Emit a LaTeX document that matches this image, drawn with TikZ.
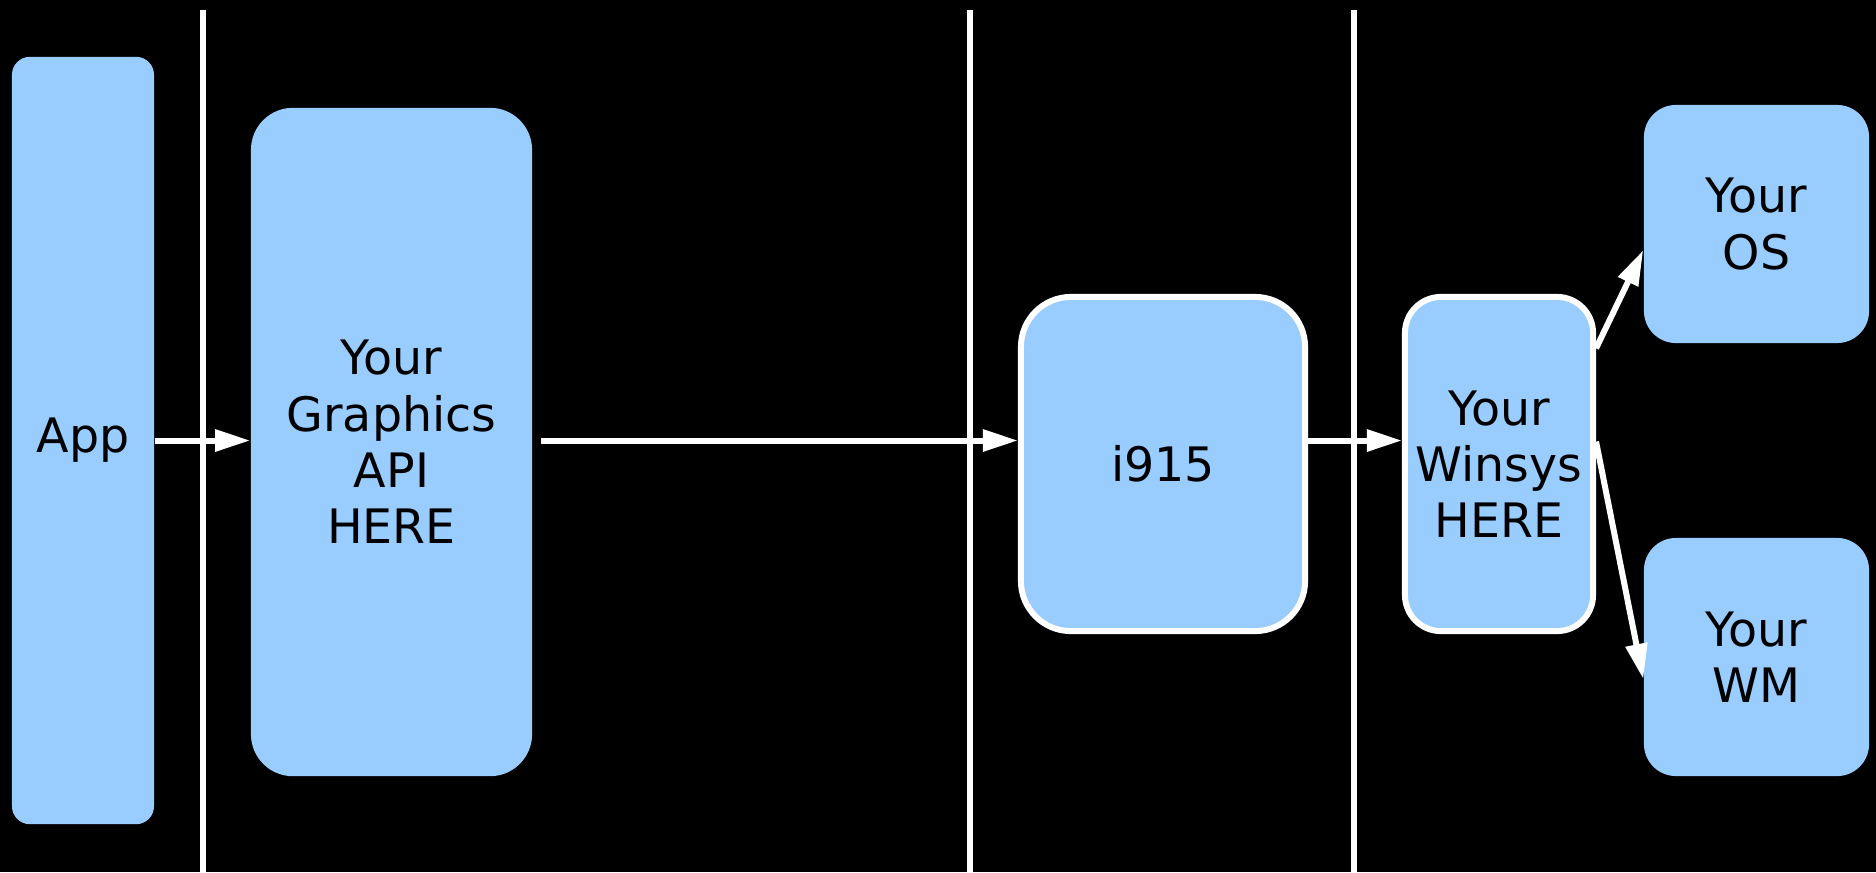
\documentclass[tikz,border=0pt]{standalone}
\usepackage{fontspec}
\setmainfont{DejaVu Sans}
\usetikzlibrary{arrows.meta}

\definecolor{boxblue}{HTML}{99CCFF}

\tikzset{
  box/.style={fill=boxblue, draw=none, inner sep=0pt, align=center,
    font=\fontsize{13.5}{16}\selectfont},
  hilite/.style={draw=white, line width=1.7pt},
  link/.style={->, white, line width=1.7pt},
  sep/.style={white, line width=1.7pt}
}

\begin{document}
\begin{tikzpicture}[x=0.01cm, y=-0.01cm, >={Triangle[length=10pt,width=6pt]}]
    % Hintergrund
    \fill[black] (0,0) rectangle (1876,872);
    \useasboundingbox (0,0) rectangle (1876,872);

    % Trennlinien
    \foreach \x in {203,970,1354}
        \draw[sep] (\x,10) -- (\x,872);

    % Kaesten
    \node[box, rounded corners=0.18cm, minimum width=1.42cm, minimum height=7.67cm] (app) at (83,440.5) {App};
    \node[box, rounded corners=0.42cm, minimum width=2.81cm, minimum height=6.68cm] (gfx) at (391.5,442) {Your\\Graphics\\API\\HERE};
    \node[box, hilite, rounded corners=0.5cm, minimum width=2.84cm, minimum height=3.34cm] (drv) at (1163,464) {i915};
    \node[box, hilite, rounded corners=0.36cm, minimum width=1.88cm, minimum height=3.34cm] (winsys) at (1499,464) {Your\\Winsys\\HERE};
    \node[box, rounded corners=0.32cm, minimum width=2.25cm, minimum height=2.38cm] (os) at (1756.5,224) {Your\\OS};
    \node[box, rounded corners=0.32cm, minimum width=2.25cm, minimum height=2.38cm] (wm) at (1756.5,657) {Your\\WM};

    % Pfeile
    \draw[link] (app.east) -- (gfx.west |- app.east);
    \draw[link, shorten <=0.08cm] (gfx.east |- app.east) -- (drv.west |- app.east);
    \draw[link] (drv.east |- app.east) -- (winsys.west |- app.east);
    \draw[link] (winsys.50) -- (os.193.5);
    \draw[link] (winsys.13) -- (wm.191.6);
\end{tikzpicture}
\end{document}
